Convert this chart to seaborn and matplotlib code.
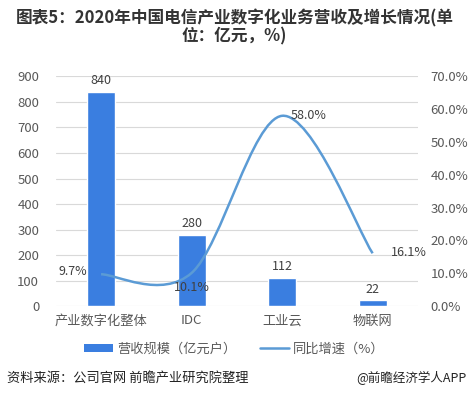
import matplotlib
matplotlib.use("Agg")
import matplotlib.pyplot as plt
from matplotlib.path import Path
from matplotlib.patches import PathPatch, Patch
from matplotlib.lines import Line2D
import seaborn as sns
import pandas as pd

# data
categories = ["产业数字化整体", "IDC", "工业云", "物联网"]
revenue = [840, 280, 112, 22]
growth = [9.7, 10.1, 58.0, 16.1]

sns.set_style("white")
plt.rcParams['font.family'] = ['Noto Sans CJK SC', 'DejaVu Sans']

bar_color = "#3a7ee0"
line_color = "#5b9bd5"
tick_color = "#595959"

fig = plt.figure(figsize=(4.69, 3.96), dpi=100)
ax = fig.add_axes([0.119, 0.227, 0.772, 0.58])

df = pd.DataFrame({"cat": categories, "rev": revenue})
sns.barplot(data=df, x="cat", y="rev", color=bar_color, width=0.31,
            saturation=1, ax=ax, zorder=2)
ax.set_xlim(-0.5, 3.5)
ax.set_ylim(0, 900)
ax.set_yticks(range(0, 901, 100))
ax.grid(axis="y", color="#d9d9d9", linewidth=0.8, zorder=0)
ax.set_axisbelow(True)
ax.set_xlabel("")
ax.set_ylabel("")
for s in ax.spines.values():
    s.set_visible(False)
ax.tick_params(axis="y", length=0, labelsize=9.5, colors=tick_color, pad=12)
ax.tick_params(axis="x", length=0, labelsize=9.5, colors=tick_color, pad=6)
for i, v in enumerate(revenue):
    ax.text(i, v + 18, str(v), ha="center", va="bottom", fontsize=9, color="#404040")

ax2 = ax.twinx()
ax2.set_ylim(0, 70)
ax2.set_yticks(range(0, 71, 10))
ax2.set_yticklabels([f"{t:.1f}%" for t in range(0, 71, 10)])
for s in ax2.spines.values():
    s.set_visible(False)
ax2.tick_params(axis="y", length=0, labelsize=9.5, colors=tick_color, pad=9)

# smooth curve (Catmull-Rom -> Bezier) through the growth points
xs = list(range(len(growth)))
pts = list(zip(xs, growth))
verts = [pts[0]]
codes = [Path.MOVETO]
n = len(pts)
for i in range(n - 1):
    p0 = pts[max(i - 1, 0)]
    p1 = pts[i]
    p2 = pts[i + 1]
    p3 = pts[min(i + 2, n - 1)]
    c1 = (p1[0] + (p2[0] - p0[0]) / 6, p1[1] + (p2[1] - p0[1]) / 6)
    c2 = (p2[0] - (p3[0] - p1[0]) / 6, p2[1] - (p3[1] - p1[1]) / 6)
    verts += [c1, c2, p2]
    codes += [Path.CURVE4] * 3
ax2.add_patch(PathPatch(Path(verts, codes), facecolor="none",
                        edgecolor=line_color, linewidth=1.8, zorder=3))

lbl_off = [(-0.47, 0.8, "left"), (0.0, -4.3, "center"), (0.09, 0.0, "left"), (0.2, 0.3, "left")]
for i, g in enumerate(growth):
    dx, dy, ha = lbl_off[i]
    ax2.text(i + dx, g + dy, f"{g:.1f}%", ha=ha, va="center", fontsize=9,
             color="#404040", zorder=4)

handles = [Patch(facecolor=bar_color, edgecolor="none"),
           Line2D([0], [0], color=line_color, linewidth=1.8)]
fig.legend(handles, ["营收规模（亿元户）", "同比增速（%）"], loc="center",
           bbox_to_anchor=(0.5, 0.118), ncol=2, frameon=False, fontsize=9.5,
           handlelength=2.2, handleheight=0.6, columnspacing=1.8,
           labelcolor=tick_color, handletextpad=0.3)

fig.text(0.5, 0.93, "图表5：2020年中国电信产业数字化业务营收及增长情况(单\n位：亿元，%)",
         ha="center", va="center", fontsize=12, fontweight="bold",
         color="#333333", linespacing=1.0)
fig.text(0.015, 0.045, "资料来源：公司官网 前瞻产业研究院整理", ha="left", va="center",
         fontsize=9.5, color="#222222")
fig.text(0.995, 0.045, "@前瞻经济学人APP", ha="right", va="center",
         fontsize=9, color="#222222")

fig.savefig("out.png", dpi=100)
